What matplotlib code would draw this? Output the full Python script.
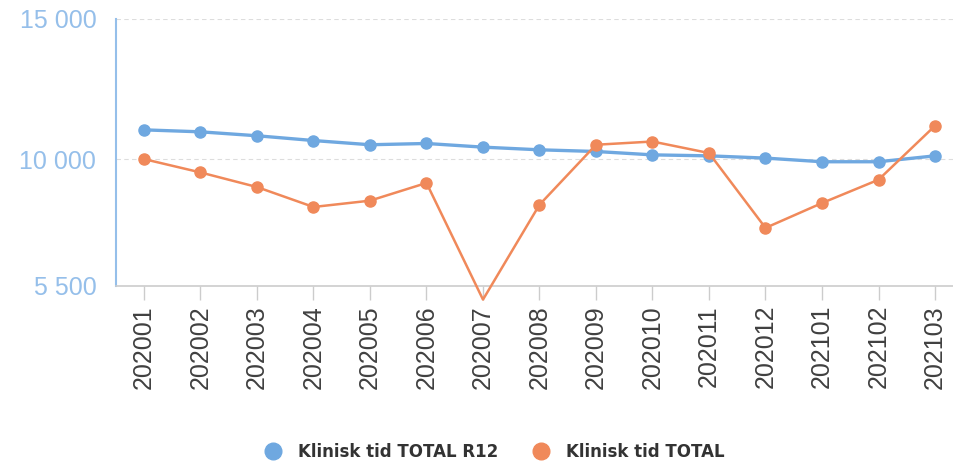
import matplotlib.pyplot as plt
from matplotlib.lines import Line2D

plt.rcParams['font.family'] = ['Liberation Sans', 'DejaVu Sans']

periods = ['202001', '202002', '202003', '202004', '202005', '202006', '202007', '202008',
           '202009', '202010', '202011', '202012', '202101', '202102', '202103']
r12 = [11040, 10970, 10830, 10660, 10510, 10555, 10425, 10330,
       10270, 10150, 10115, 10035, 9905, 9905, 10115]
total = [10000, 9525, 9005, 8295, 8520, 9150, 5000, 8375,
         10510, 10625, 10215, 7550, 8435, 9265, 11185]

blue = '#6fa8e0'
orange = '#f0895a'
axis_blue = '#95bfea'

fig = plt.figure(figsize=(9.54, 4.65), dpi=100)
ax = fig.add_axes([0.1213, 0.386, 0.8884, 0.574])

x = list(range(len(periods)))
ax.plot(x, r12, color=blue, lw=2.4, marker='o', ms=8, zorder=3)
ax.plot(x, total, color=orange, lw=1.8, zorder=4, clip_on=False)
# the lowest point sits under the axis and has no visible marker
keep = [i for i in x if total[i] >= 5500]
ax.plot([x[i] for i in keep], [total[i] for i in keep], 'o', color=orange, ms=8, zorder=5)

ax.set_xlim(-0.5, len(periods) - 0.5)
ax.set_ylim(5500, 15000)
ax.set_yticks([5500, 10000, 15000])
ax.set_yticklabels(['5 500', '10 000', '15 000'])
ax.set_xticks(x)
ax.set_xticklabels(periods, rotation=90)

ax.tick_params(axis='y', length=0, pad=14, labelsize=18, labelcolor=axis_blue)
ax.tick_params(axis='x', length=10, width=1, color='#cccccc', pad=4, labelsize=18, labelcolor='#404040')

for yv in [10000, 15000]:
    ax.axhline(yv, color='#dddddd', lw=0.8, ls=(0, (4, 3)), zorder=1)

for s in ['top', 'right']:
    ax.spines[s].set_visible(False)
ax.spines['left'].set_color(axis_blue)
ax.spines['left'].set_linewidth(1.5)
ax.spines['bottom'].set_color('#cccccc')
ax.spines['bottom'].set_linewidth(1.2)

handles = [Line2D([], [], ls='none', marker='o', ms=12, color=blue),
           Line2D([], [], ls='none', marker='o', ms=12, color=orange)]
fig.legend(handles, ['Klinisk tid TOTAL R12', 'Klinisk tid TOTAL'], loc='center',
           bbox_to_anchor=(0.514, 0.028), ncol=2, frameon=False, handletextpad=0.5,
           columnspacing=1.6, prop={'family': 'DejaVu Sans', 'weight': 'bold', 'size': 12},
           labelcolor='#333333')

fig.savefig('out.png', dpi=100)
